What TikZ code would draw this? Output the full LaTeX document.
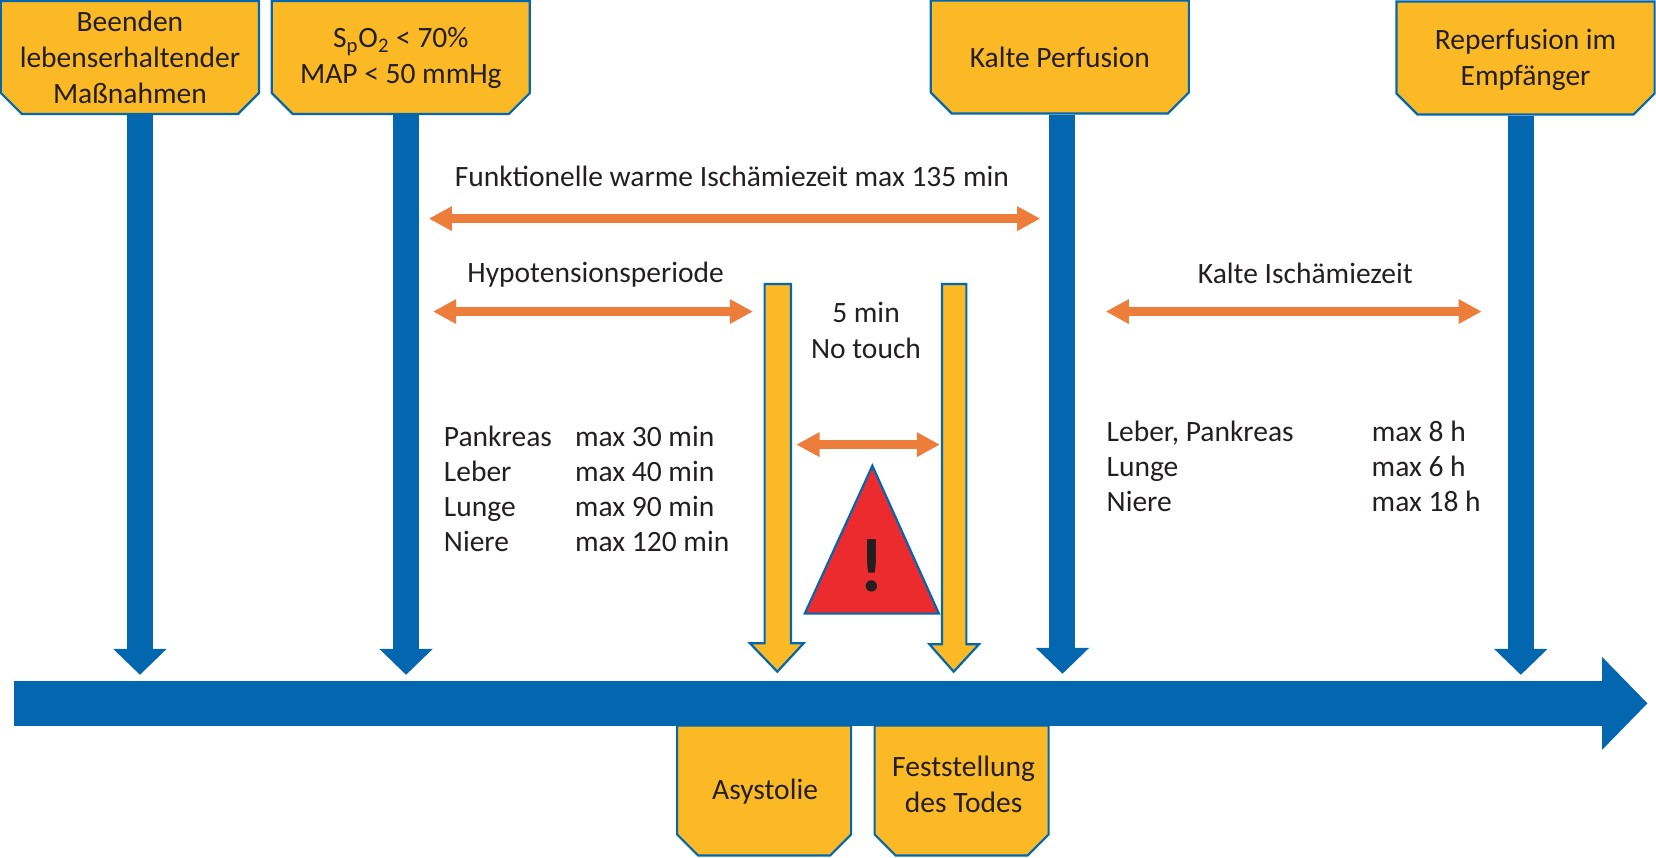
\documentclass[tikz,border=0pt]{standalone}
\usepackage{fontspec}
\setmainfont{Carlito}
\usetikzlibrary{arrows.meta,shapes.misc}
\definecolor{signgold}{HTML}{FBB926}
\definecolor{lineblue}{HTML}{0367B0}
\definecolor{spanorange}{HTML}{ED7D3A}
\definecolor{warnred}{HTML}{EC2B2E}
\definecolor{inkdark}{HTML}{231F20}
\newcommand{\signtext}[2]{\smash{\makebox[50pt]{\raisebox{#1}{\begin{tabular}{@{}c@{}}#2\end{tabular}}}}}
\tikzset{
  every node/.style={text=inkdark,font=\fontsize{14.75}{18}\selectfont,align=center},
  signbox/.style={chamfered rectangle,chamfered rectangle xsep=10.5pt,chamfered rectangle ysep=10.5pt,
    draw=lineblue,fill=signgold,line width=1.1pt,inner sep=0pt,minimum width=129pt},
  signtop/.style={signbox,minimum height=56.5pt,chamfered rectangle corners={south west,south east}},
  signlow/.style={signbox,minimum width=87pt,minimum height=65pt,chamfered rectangle corners={south west,south east}},
  pole/.style={draw=lineblue,line width=13pt,-{Triangle[width=26pt,length=13pt]}},
  axisarrow/.style={draw=lineblue,line width=22.2pt,-{Triangle[width=45pt,length=22.7pt]}},
  span/.style={draw=spanorange,line width=4.3pt,{Triangle[width=11.6pt,length=11.6pt]}-{Triangle[width=11.6pt,length=11.6pt]}},
  goldarrow/.style={draw=lineblue,fill=signgold,line width=1.1pt,line join=miter},
  infotable/.style={anchor=north west,inner sep=0pt,align=left,font=\fontsize{14.75}{17.5}\selectfont}
}
\begin{document}
\begin{tikzpicture}[x=0.528pt,y=-0.528pt]
    \useasboundingbox (0,0) rectangle (1568,812.4);
    % signs along the top
    \node[signtop] (stop) at (123,54.5) {\signtext{-5.2pt}{Beenden\\lebenserhaltender\\Maßnahmen}};
    \node[signtop] (sat) at (379.5,54.5) {\signtext{-4.2pt}{S\textsubscript{p}O\textsubscript{2} < 70\%\\MAP < 50 mmHg}};
    \node[signtop] (cold) at (1003.5,54) {\signtext{-5pt}{Kalte Perfusion}};
    \node[signtop] (rep) at (1444.5,55) {\signtext{-4.7pt}{Reperfusion im\\Empfänger}};
    % signs under the axis
    \node[signlow] (asys) at (723.5,748.5) {\signtext{-4.5pt}{\hspace*{1pt}Asystolie}};
    \node[signlow] (death) at (910.5,748.5) {\signtext{-2.1pt}{\hspace*{2pt}Feststellung\\\hspace*{2pt}des Todes}};
    % time axis
    \coordinate (axisA) at (13,666);
    \coordinate (axisB) at (1560,666);
    \draw[axisarrow] (axisA) -- (axisB);
    % poles
    \coordinate (stopEnd) at (132.5,639);
    \coordinate (satEnd) at (384.5,639);
    \coordinate (coldEnd) at (1006,638);
    \coordinate (repEnd) at (1440,639);
    \draw[pole] (stopEnd |- stop.south) -- (stopEnd);
    \draw[pole] (satEnd |- sat.south) -- (satEnd);
    \draw[pole] (coldEnd |- cold.south) -- (coldEnd);
    \draw[pole] (repEnd |- rep.south) -- (repEnd);
    % yellow markers
    \draw[goldarrow] (724,269) -- (749,269) -- (749,609) -- (761,609) -- (736,636)
      -- (710,609) -- (724,609) -- cycle;
    \draw[goldarrow] (892,269) -- (915,269) -- (915,610) -- (927,610) -- (903,636)
      -- (880,610) -- (892,610) -- cycle;
    % spans
    \coordinate (warmA) at (406,207);
    \coordinate (warmB) at (985,207);
    \coordinate (hypoA) at (410,295);
    \coordinate (hypoB) at (713,295);
    \coordinate (iceA) at (1047,295);
    \coordinate (iceB) at (1403,295);
    \coordinate (touchA) at (754,421);
    \coordinate (touchB) at (890,421);
    \draw[span] (warmA) -- (warmB);
    \draw[span] (hypoA) -- (hypoB);
    \draw[span] (iceA) -- (iceB);
    \draw[span] (touchA) -- (touchB);
    \node (warmText) at (693,167) {Funktionelle warme Ischämiezeit max 135 min};
    \node (hypoText) at (564,260) {Hypotensionsperiode};
    \node (iceText) at (1236,259) {Kalte Ischämiezeit};
    \node (touchText) at (820,313) {5 min\\No touch};
    % warning sign
    \draw[draw=lineblue,fill=warnred,line width=1.1pt] (826,441) -- (889,581) -- (762,581) -- cycle;
    \node[font=\fontsize{38}{38}\selectfont\bfseries] (warnMark) at (826,536) {!};
    % limits
    \node[infotable] (warmList) at (420,399) {\begin{tabular}{@{}p{65.5pt}@{}l@{}}
      Pankreas & max 30 min\\ Leber & max 40 min\\ Lunge & max 90 min\\ Niere & max 120 min
    \end{tabular}};
    \node[infotable] (coldList) at (1047.5,394.5) {\begin{tabular}{@{}p{132.5pt}@{}l@{}}
      Leber, Pankreas & max 8 h\\ Lunge & max 6 h\\ Niere & max 18 h
    \end{tabular}};
\end{tikzpicture}
\end{document}
